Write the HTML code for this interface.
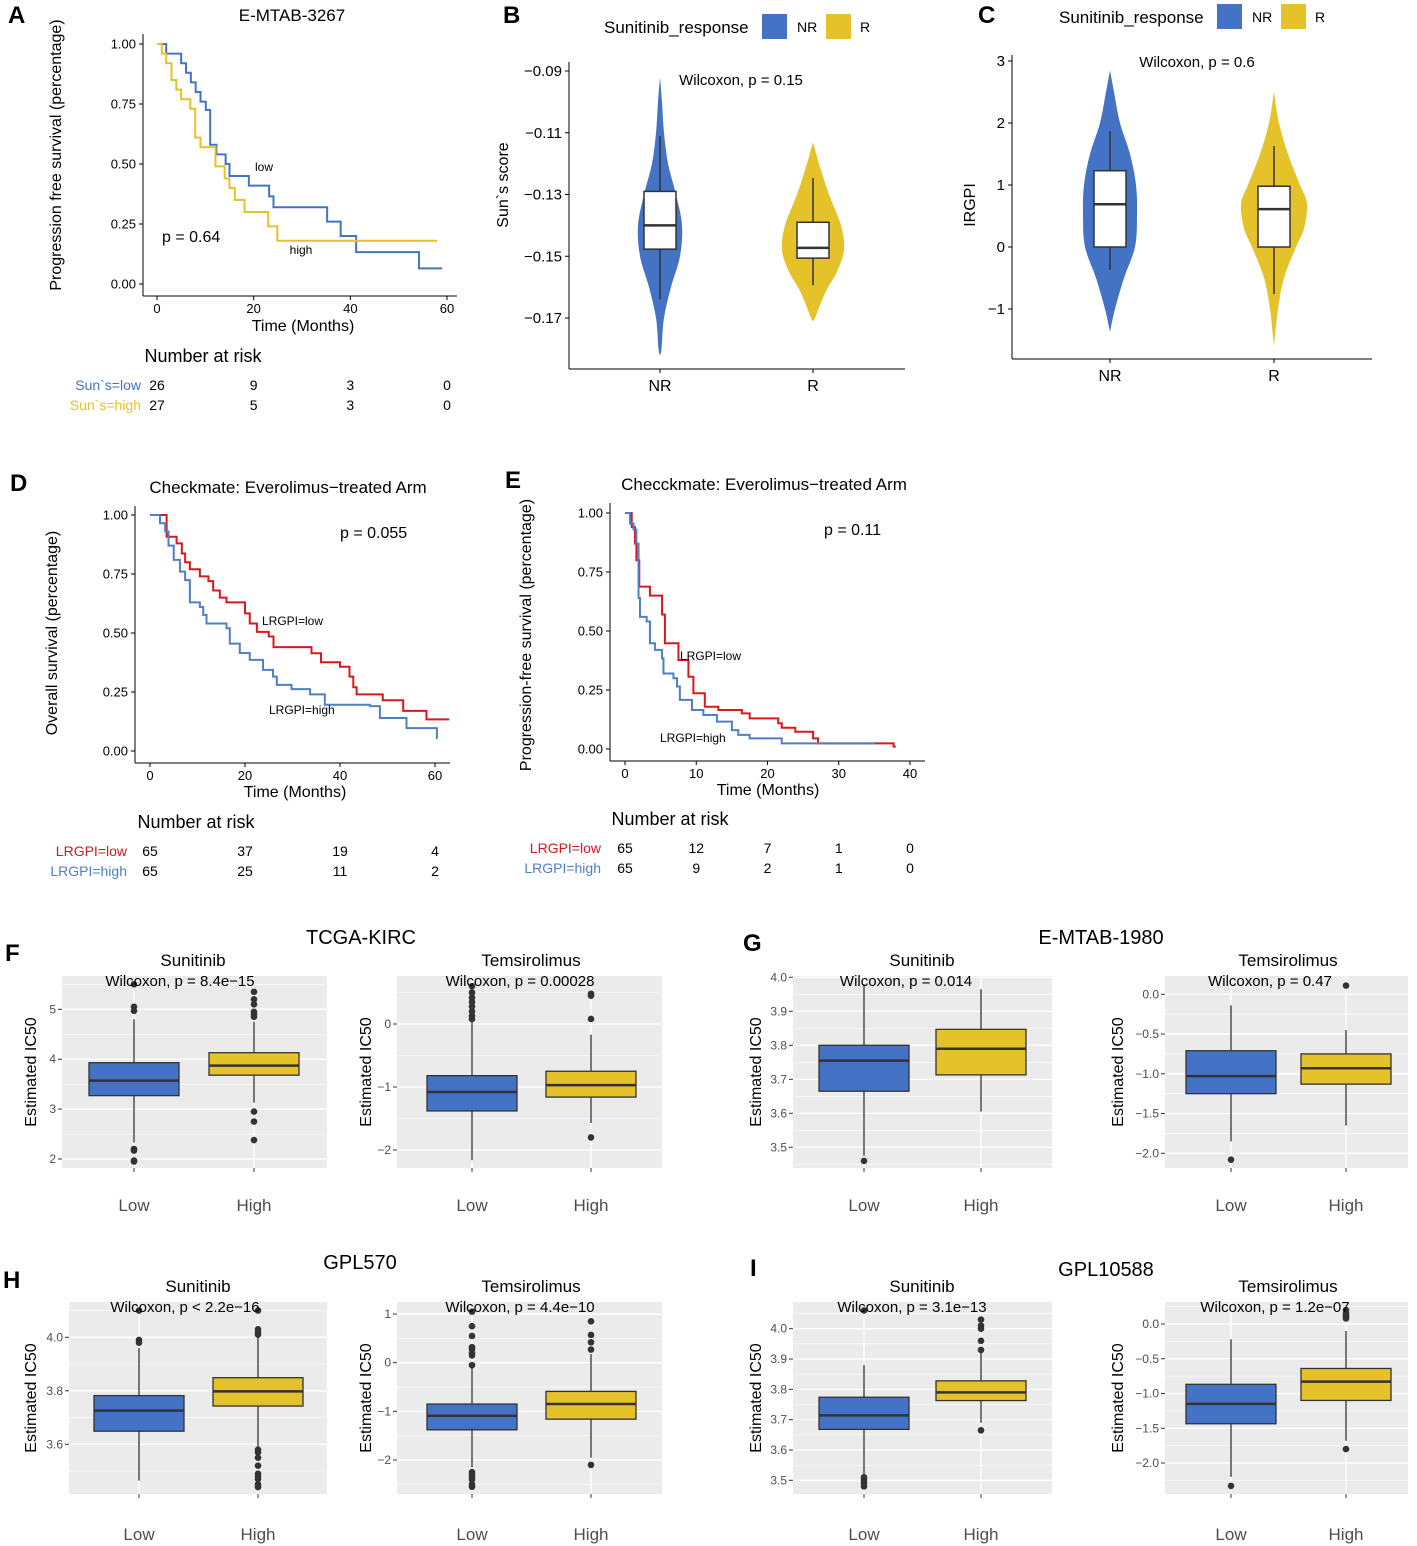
<!DOCTYPE html>
<html><head><meta charset="utf-8">
<style>
html,body{margin:0;padding:0;background:#fff;}
svg{display:block;font-family:"Liberation Sans",Arial,sans-serif;}
</style></head>
<body>
<svg id="fig" xmlns="http://www.w3.org/2000/svg" width="1417" height="1546" viewBox="0 0 1417 1546"></svg>
<script>
// ===== DATA =====
// Panel A KM
const aLowT=[0,1.9,5,6,7,8,9,10.1,11,12.3,14.2,15,19,23.2,24.1,35.2,38,41.2,54.2,59];
const aLowS=[1,0.96,0.92,0.88,0.84,0.80,0.76,0.725,0.58,0.54,0.50,0.45,0.41,0.365,0.32,0.26,0.20,0.133,0.065,0.065];
const aHighT=[0,1,1.9,3,4,5,6.9,7.9,9,12.1,14,15,16.1,18.1,23,24.9,58];
const aHighS=[1,0.96,0.92,0.85,0.81,0.77,0.73,0.61,0.57,0.49,0.44,0.40,0.35,0.30,0.24,0.18,0.18];
const aRiskTimes=[0,20,40,60];
const aRiskLow=[26,9,3,0];
const aRiskHigh=[27,5,3,0];
// Panel D KM
const dLowT=[0,0.35,3.5,5.6,6.7,7.4,8.4,10.5,12.3,13.3,14.7,16.1,20,21,22.5,25,26,34,36,40,42,42.8,43.5,49,53.3,58.2,63];
const dLowS=[1,1,0.908,0.88,0.837,0.80,0.77,0.74,0.72,0.68,0.65,0.63,0.583,0.54,0.505,0.485,0.44,0.414,0.376,0.357,0.315,0.27,0.24,0.215,0.17,0.134,0.134];
const dHighT=[0,2.1,3.2,3.9,5,6.3,7.4,8.4,10.5,11.2,11.9,16.1,16.8,18.9,21,23.8,25.9,26.7,29.8,33.7,36.8,46.3,48.4,54,60.4,60.5];
const dHighS=[1,0.965,0.93,0.87,0.81,0.76,0.724,0.63,0.61,0.577,0.54,0.52,0.455,0.415,0.386,0.344,0.315,0.28,0.262,0.24,0.196,0.19,0.14,0.097,0.054,0.054];
const dRiskTimes=[0,20,40,60];
const dRiskLow=[65,37,19,4];
const dRiskHigh=[65,25,11,2];
// Panel E KM
const eLowT=[0,0.94,1.4,1.6,2.0,3.5,5.2,5.6,7.5,8.9,9.6,11.2,13.1,16.4,17.5,21.5,22,23.9,26.4,27.1,37.7,38];
const eLowS=[1,0.94,0.87,0.80,0.688,0.65,0.57,0.448,0.377,0.306,0.236,0.179,0.165,0.151,0.13,0.109,0.09,0.073,0.045,0.024,0.01,0.01];
const eHighT=[0,0.7,1.2,1.6,1.9,2.1,3.04,3.5,4.2,5.2,5.4,6.8,7.3,7.7,9.4,11,12.9,15,15.9,17.5,22,35.1];
const eHighS=[1,0.955,0.93,0.87,0.64,0.56,0.54,0.448,0.42,0.384,0.32,0.30,0.265,0.208,0.165,0.144,0.116,0.08,0.06,0.045,0.024,0.024];
const eRiskTimes=[0,10,20,30,40];
const eRiskLow=[65,12,7,1,0];
const eRiskHigh=[65,9,2,1,0];
// Panel B violins: [value, half-width density]
const bNRViolin=[[-0.092,0],[-0.10,2],[-0.11,4],[-0.12,8],[-0.13,16],[-0.14,22],[-0.15,20],[-0.16,11],[-0.17,4],[-0.18,1.5],[-0.182,0]];
const bRViolin=[[-0.113,0],[-0.12,6],[-0.13,16],[-0.14,28],[-0.148,31],[-0.155,24],[-0.16,15],[-0.165,8],[-0.17,2],[-0.171,0]];
const bNRBox=[-0.164,-0.1477,-0.140,-0.129,-0.111];
const bRBox=[-0.1594,-0.1506,-0.1473,-0.139,-0.1247];
const bTicks=[-0.09,-0.11,-0.13,-0.15,-0.17];
// Panel C violins
const cNRViolin=[[2.85,0],[2.5,4],[2,10],[1.5,20],[1,26],[0.5,27],[0,25],[-0.5,14],[-1,5],[-1.37,0]];
const cRViolin=[[2.5,0],[2,5],[1.5,14],[1,26],[0.7,33],[0.3,30],[0,22],[-0.5,10],[-1,4],[-1.6,0]];
const cNRBox=[-0.37,0.0,0.69,1.23,1.87];
const cRBox=[-0.76,0.0,0.61,0.98,1.63];
const cTicks=[3,2,1,0,-1];
// Box panels: stats [whiskerLo,Q1,median,Q3,whiskerHi] for Low, High
const f1Stats=[[2.33,3.27,3.57,3.93,4.8],[3.13,3.68,3.87,4.13,4.75]];
const f1Out=[[5.5,5.05,4.97,2.2,2.17,1.97,1.95],[5.35,5.2,5.1,4.95,4.9,4.85,2.95,2.75,2.38]];
const f2Stats=[[-2.16,-1.38,-1.08,-0.82,0.06],[-1.57,-1.16,-0.97,-0.75,-0.17]];
const f2Out=[[0.08,0.13,0.2,0.28,0.35,0.42,0.5,0.6],[0.08,0.45,0.48,-1.8]];
const g1Stats=[[3.475,3.665,3.755,3.80,3.98],[3.605,3.713,3.79,3.847,3.965]];
const g1Out=[[3.46],[]];
const g2Stats=[[-1.85,-1.25,-1.03,-0.71,-0.14],[-1.65,-1.13,-0.93,-0.75,-0.45]];
const g2Out=[[-2.08],[0.11]];
const h1Stats=[[3.464,3.649,3.726,3.782,3.96],[3.59,3.743,3.798,3.849,4.0]];
const h1Out=[[3.99,3.98,4.1],[4.03,4.02,4.01,4.1,3.58,3.57,3.55,3.52,3.49,3.48,3.47,3.45,3.44]];
const h2Stats=[[-2.15,-1.38,-1.09,-0.85,-0.1],[-1.95,-1.16,-0.85,-0.59,0.18]];
const h2Out=[[-0.05,0.15,0.2,0.28,0.32,0.55,0.75,1.05,-2.25,-2.3,-2.35,-2.4,-2.5,-2.55],[0.27,0.42,0.57,0.85,-2.1]];
const i1Stats=[[3.52,3.668,3.714,3.774,3.88],[3.69,3.763,3.79,3.828,3.92]];
const i1Out=[[3.51,3.5,3.49,3.48,4.06],[3.93,3.96,4.0,4.01,4.03,3.665]];
const i2Stats=[[-2.2,-1.435,-1.15,-0.868,-0.22],[-1.68,-1.1,-0.83,-0.64,-0.1]];
const i2Out=[[-2.33],[0.08,0.1,0.12,0.15,0.2,-1.8]];
const boxGroups=['Low','High'];
const f1Ticks=[2,3,4,5], f2Ticks=[-2,-1,0], g1Ticks=[3.5,3.6,3.7,3.8,3.9,4.0], g2Ticks=[-2,-1.5,-1,-0.5,0];
const h1Ticks=[3.6,3.8,4.0], h2Ticks=[-2,-1,0,1], i1Ticks=[3.5,3.6,3.7,3.8,3.9,4.0], i2Ticks=[-2,-1.5,-1,-0.5,0];

// ===== DRAWING =====
const NS='http://www.w3.org/2000/svg';
const svg=document.getElementById('fig');
function mk(tag,attrs,name){
  const e=document.createElementNS(NS,tag);
  for(const k in attrs) e.setAttribute(k,attrs[k]);
  
  
  svg.appendChild(e);
  return e;
}
function txt(x,y,s,name,o){
  o=o||{};
  const a={x:x,y:y,'font-size':o.size||14,fill:o.fill||'#000','text-anchor':o.anchor||'start'};
  if(o.weight)a['font-weight']=o.weight;
  if(o.rot!==undefined){a.transform='rotate('+o.rot+' '+x+' '+y+')';}
  const t=mk('text',a,name);
  t.textContent=s;
  return t;
}
function fmt(v,d){return (v<0?'\u2212':'')+Math.abs(v).toFixed(d);}
const BLUE='#4472C4', YEL='#E5C12A', RED='#D7191C', BLUE2='#4F7FC4';

function km(L,series,colors,names){
  const xs=t=>L.xa+(t-L.t0)*(L.xb-L.xa)/(L.t1-L.t0);
  const ys=s=>L.y0+(1-s)*(L.y1-L.y0);
  mk('line',{x1:L.ax,y1:L.atop,x2:L.ax,y2:L.ab,stroke:'#000','stroke-width':1},L.p+'-y-axis');
  mk('line',{x1:L.ax,y1:L.ab,x2:L.ar,y2:L.ab,stroke:'#000','stroke-width':1},L.p+'-x-axis');
  [1,0.75,0.5,0.25,0].forEach(v=>{
    mk('line',{x1:L.ax-4,y1:ys(v),x2:L.ax,y2:ys(v),stroke:'#000'},L.p+'-y-tick');
    txt(L.ax-7,ys(v)+4.5,v.toFixed(2),L.p+'-y-tick-label',{size:13,anchor:'end'});
  });
  L.xt.forEach(v=>{
    mk('line',{x1:xs(v),y1:L.ab,x2:xs(v),y2:L.ab+4,stroke:'#000'},L.p+'-x-tick');
    txt(xs(v),L.ab+17,String(v),L.p+'-x-tick-label',{size:13,anchor:'middle'});
  });
  series.forEach((sr,k)=>{
    const T=sr[0],S=sr[1];
    let d='M'+xs(T[0])+','+ys(S[0]);
    for(let i=1;i<T.length;i++){d+=' H'+xs(T[i])+' V'+ys(S[i]);}
    mk('path',{d:d,fill:'none',stroke:colors[k],'stroke-width':2},names[k]);
  });
  return xs;
}
function riskTable(xs,times,rows,labels,colors,yRows,labX,p){
  rows.forEach((r,j)=>{
    txt(labX,yRows[j],labels[j],p+'-risk-label',{size:14,anchor:'end',fill:colors[j]});
    r.forEach((v,i)=>txt(xs(times[i]),yRows[j],String(v),p+'-risk-count',{size:14,anchor:'middle'}));
  });
}

// Panel A
txt(8,23,'A','panel-label-a',{size:24,weight:'bold'});
txt(292,21,'E-MTAB-3267','panel-a-title',{size:17,anchor:'middle'});
txt(61,155,'Progression free survival (percentage)','panel-a-y-title',{size:16,anchor:'middle',rot:-90});
const xsA=km({p:'a',xa:157,xb:447,t0:0,t1:60,y0:44,y1:284,ax:143,atop:34,ab:296,ar:457,xt:[0,20,40,60]},
  [[aLowT,aLowS],[aHighT,aHighS]],[BLUE,YEL],['km-a-low','km-a-high']);
txt(303,331,'Time (Months)','panel-a-x-title',{size:16,anchor:'middle'});
txt(264,171,'low','label-low',{size:12,anchor:'middle'});
txt(301,254,'high','label-high',{size:12,anchor:'middle'});
txt(162,242,'p = 0.64','p-value-a',{size:16});
txt(203,362,'Number at risk','risk-title-a',{size:18,anchor:'middle'});
riskTable(xsA,aRiskTimes,[aRiskLow,aRiskHigh],['Sun`s=low','Sun`s=high'],[BLUE,YEL],[390,410],141,'a');

// Panel D
txt(10,491,'D','panel-label-d',{size:24,weight:'bold'});
txt(288,493,'Checkmate: Everolimus\u2212treated Arm','panel-d-title',{size:17,anchor:'middle'});
txt(57,633,'Overall survival (percentage)','panel-d-y-title',{size:16,anchor:'middle',rot:-90});
const xsD=km({p:'d',xa:150,xb:435,t0:0,t1:60,y0:515,y1:751,ax:135,atop:506,ab:763,ar:450,xt:[0,20,40,60]},
  [[dLowT,dLowS],[dHighT,dHighS]],[RED,BLUE2],['km-d-low','km-d-high']);
txt(295,797,'Time (Months)','panel-d-x-title',{size:16,anchor:'middle'});
txt(340,538,'p = 0.055','p-value-d',{size:16});
txt(262,625,'LRGPI=low','label-d-low',{size:12});
txt(269,714,'LRGPI=high','label-d-high',{size:12});
txt(196,828,'Number at risk','risk-title-d',{size:18,anchor:'middle'});
riskTable(xsD,dRiskTimes,[dRiskLow,dRiskHigh],['LRGPI=low','LRGPI=high'],[RED,BLUE2],[856,876],127,'d');

// Panel E
txt(505,488,'E','panel-label-e',{size:24,weight:'bold'});
txt(764,490,'Checckmate: Everolimus\u2212treated Arm','panel-e-title',{size:17,anchor:'middle'});
txt(531,635,'Progression-free survival (percentage)','panel-e-y-title',{size:16,anchor:'middle',rot:-90});
const xsE=km({p:'e',xa:625,xb:910,t0:0,t1:40,y0:513,y1:749,ax:610,atop:503,ab:761,ar:925,xt:[0,10,20,30,40]},
  [[eLowT,eLowS],[eHighT,eHighS]],[RED,BLUE2],['km-e-low','km-e-high']);
txt(768,795,'Time (Months)','panel-e-x-title',{size:16,anchor:'middle'});
txt(824,535,'p = 0.11','p-value-e',{size:16});
txt(680,660,'LRGPI=low','label-e-low',{size:12});
txt(660,742,'LRGPI=high','label-e-high',{size:12});
txt(670,825,'Number at risk','risk-title-e',{size:18,anchor:'middle'});
riskTable(xsE,eRiskTimes,[eRiskLow,eRiskHigh],['LRGPI=low','LRGPI=high'],[RED,BLUE2],[853,873],601,'e');

// smooth curve through points (Catmull-Rom -> cubic Bezier)
function smoothSeg(pts){
  let d='';
  for(let i=0;i<pts.length-1;i++){
    const p0=pts[Math.max(0,i-1)],p1=pts[i],p2=pts[i+1],p3=pts[Math.min(pts.length-1,i+2)];
    const c1x=p1[0]+(p2[0]-p0[0])/6,c1y=p1[1]+(p2[1]-p0[1])/6;
    const c2x=p2[0]-(p3[0]-p1[0])/6,c2y=p2[1]-(p3[1]-p1[1])/6;
    d+=' C'+c1x+','+c1y+' '+c2x+','+c2y+' '+p2[0]+','+p2[1];
  }
  return d;
}
// Violin panels
function violinPanel(L,viols,boxes,ticks,dec){
  const ys=v=>L.ya+(v-L.va)*(L.yb-L.ya)/(L.vb-L.va);
  mk('line',{x1:L.ax,y1:L.atop,x2:L.ax,y2:L.ab,stroke:'#000'},L.p+'-y-axis');
  mk('line',{x1:L.ax,y1:L.ab,x2:L.ar,y2:L.ab,stroke:'#000'},L.p+'-x-axis');
  ticks.forEach(v=>{
    mk('line',{x1:L.ax-4,y1:ys(v),x2:L.ax,y2:ys(v),stroke:'#000'},L.p+'-y-tick');
    txt(L.ax-7,ys(v)+5,fmt(v,dec),L.p+'-y-tick-label',{size:15,anchor:'end'});
  });
  const cols=[BLUE,YEL],g=['NR','R'];
  viols.forEach((vl,k)=>{
    const cx=L.cx[k];
    const left=vl.map(p=>[cx-p[1],ys(p[0])]);
    const right=vl.slice().reverse().map(p=>[cx+p[1],ys(p[0])]);
    let d='M'+left[0][0]+','+left[0][1]+smoothSeg(left)+smoothSeg(right)+'Z';
    mk('path',{d:d,fill:cols[k],stroke:'none'},'violin-'+g[k].toLowerCase());
    const b=boxes[k],hw=16;
    mk('line',{x1:cx,y1:ys(b[0]),x2:cx,y2:ys(b[4]),stroke:'#333','stroke-width':1.5},'whisker-'+g[k].toLowerCase());
    mk('rect',{x:cx-hw,y:ys(b[3]),width:2*hw,height:ys(b[1])-ys(b[3]),fill:'#fff',stroke:'#333','stroke-width':1.5},'box-'+g[k].toLowerCase());
    mk('line',{x1:cx-hw,y1:ys(b[2]),x2:cx+hw,y2:ys(b[2]),stroke:'#333','stroke-width':2.5},'median-'+g[k].toLowerCase());
    mk('line',{x1:cx,y1:L.ab,x2:cx,y2:L.ab+4,stroke:'#000'},L.p+'-x-tick');
    txt(cx,L.ab+22,g[k],L.p+'-x-label',{size:16,anchor:'middle'});
  });
}
function legend(x,y,p){
  txt(x,y+19,'Sunitinib_response',p+'-legend-title',{size:17});
  mk('rect',{x:x+158,y:y,width:25,height:25,fill:BLUE},p+'-legend-key-nr');
  txt(x+193,y+18,'NR',p+'-legend-nr',{size:14});
  mk('rect',{x:x+222,y:y,width:25,height:25,fill:YEL},p+'-legend-key-r');
  txt(x+256,y+18,'R',p+'-legend-r',{size:14});
}
txt(503,23,'B','panel-label-b',{size:24,weight:'bold'});
legend(604,14,'b');
txt(508,185,'Sun`s score','panel-b-y-title',{size:16,anchor:'middle',rot:-90});
violinPanel({p:'b',ya:71,yb:318,va:-0.09,vb:-0.17,ax:569,atop:62,ab:369,ar:905,cx:[660,813]},[bNRViolin,bRViolin],[bNRBox,bRBox],bTicks,2);
txt(741,85,'Wilcoxon, p = 0.15','wilcoxon-b',{size:15,anchor:'middle'});

txt(978,23,'C','panel-label-c',{size:24,weight:'bold'});
legend(1059,4,'c');
txt(975,205,'IRGPI','panel-c-y-title',{size:16,anchor:'middle',rot:-90});
violinPanel({p:'c',ya:61,yb:309,va:3,vb:-1,ax:1012,atop:55,ab:359,ar:1372,cx:[1110,1274]},[cNRViolin,cRViolin],[cNRBox,cRBox],cTicks,0);
txt(1197,67,'Wilcoxon, p = 0.6','wilcoxon-c',{size:15,anchor:'middle'});

// Box panels
function boxPanel(L,stats,outs,ticks,dec){
  const ys=v=>L.pa+(v-L.va)*(L.pb-L.pa)/(L.vb-L.va);
  mk('rect',{x:L.x0,y:L.y0,width:L.x1-L.x0,height:L.y1-L.y0,fill:'#EBEBEB'},L.p+'-panel-bg');
  for(let i=0;i<ticks.length-1;i++){
    const m=(ticks[i]+ticks[i+1])/2;
    mk('line',{x1:L.x0,y1:ys(m),x2:L.x1,y2:ys(m),stroke:'#fff','stroke-width':0.6},L.p+'-minor-grid');
  }
  const step=ticks[1]-ticks[0];
  [ticks[0]-step/2,ticks[ticks.length-1]+step/2].forEach(m=>{
    if(ys(m)>L.y0&&ys(m)<L.y1) mk('line',{x1:L.x0,y1:ys(m),x2:L.x1,y2:ys(m),stroke:'#fff','stroke-width':0.6},L.p+'-minor-grid');
  });
  ticks.forEach(v=>{
    mk('line',{x1:L.x0,y1:ys(v),x2:L.x1,y2:ys(v),stroke:'#fff','stroke-width':1.3},L.p+'-major-grid');
    mk('line',{x1:L.x0-4,y1:ys(v),x2:L.x0,y2:ys(v),stroke:'#333'},L.p+'-y-tick');
    txt(L.x0-6,ys(v)+4,fmt(v,dec),L.p+'-y-tick-label',{size:12,anchor:'end',fill:'#4d4d4d'});
  });
  L.cx.forEach(cx=>mk('line',{x1:cx,y1:L.y0,x2:cx,y2:L.y1,stroke:'#fff','stroke-width':1.3},L.p+'-v-grid'));
  const cols=[BLUE,YEL];
  stats.forEach((b,k)=>{
    const cx=L.cx[k],hw=45;
    mk('line',{x1:cx,y1:ys(b[0]),x2:cx,y2:ys(b[4]),stroke:'#333','stroke-width':1.3},L.p+'-whisker-'+boxGroups[k].toLowerCase());
    mk('rect',{x:cx-hw,y:ys(b[3]),width:2*hw,height:ys(b[1])-ys(b[3]),fill:cols[k],stroke:'#333','stroke-width':1.3},L.p+'-box-'+boxGroups[k].toLowerCase());
    mk('line',{x1:cx-hw,y1:ys(b[2]),x2:cx+hw,y2:ys(b[2]),stroke:'#333','stroke-width':2.5},L.p+'-median-'+boxGroups[k].toLowerCase());
    outs[k].forEach(o=>mk('circle',{cx:cx,cy:ys(o),r:3.3,fill:'#333'},L.p+'-outlier'));
    mk('line',{x1:cx,y1:L.y1,x2:cx,y2:L.y1+4,stroke:'#333'},L.p+'-x-tick');
    txt(cx,L.ly,boxGroups[k],L.p+'-x-label',{size:17,anchor:'middle',fill:'#4d4d4d'});
  });
  txt(L.tx,L.y0-10,L.title,L.p+'-title',{size:17,anchor:'middle'});
  txt(L.wx,L.y0+10,L.wil,L.p+'-wilcoxon',{size:15,anchor:'middle'});
  txt(L.ytx,(L.y0+L.y1)/2,'Estimated IC50',L.p+'-y-title',{size:16,anchor:'middle',rot:-90});
}
// F
txt(5,961,'F','panel-label-f',{size:24,weight:'bold'});
txt(361,944,'TCGA-KIRC','f-dataset-title',{size:20,anchor:'middle'});
boxPanel({p:'f1',x0:62,x1:327,y0:976,y1:1168,pa:1009.3,pb:1159,va:5,vb:2,cx:[134,254],ly:1211,title:'Sunitinib',tx:193,wil:'Wilcoxon, p = 8.4e\u221215',wx:180,ytx:36},f1Stats,f1Out,f1Ticks,0);
boxPanel({p:'f2',x0:397,x1:662,y0:976,y1:1168,pa:1024,pb:1150,va:0,vb:-2,cx:[472,591],ly:1211,title:'Temsirolimus',tx:531,wil:'Wilcoxon, p = 0.00028',wx:520,ytx:371},f2Stats,f2Out,f2Ticks,0);
// G
txt(743,951,'G','panel-label-g',{size:24,weight:'bold'});
txt(1101,944,'E-MTAB-1980','g-dataset-title',{size:20,anchor:'middle'});
boxPanel({p:'g1',x0:793,x1:1052,y0:976,y1:1168,pa:977.3,pb:1147.3,va:4.0,vb:3.5,cx:[864,981],ly:1211,title:'Sunitinib',tx:922,wil:'Wilcoxon, p = 0.014',wx:906,ytx:761},g1Stats,g1Out,g1Ticks,1);
boxPanel({p:'g2',x0:1165,x1:1408,y0:976,y1:1168,pa:994.3,pb:1153.3,va:0,vb:-2,cx:[1231,1346],ly:1211,title:'Temsirolimus',tx:1288,wil:'Wilcoxon, p = 0.47',wx:1270,ytx:1123},g2Stats,g2Out,g2Ticks,1);
// H
txt(3,1288,'H','panel-label-h',{size:24,weight:'bold'});
txt(360,1269,'GPL570','h-dataset-title',{size:20,anchor:'middle'});
boxPanel({p:'h1',x0:69,x1:327,y0:1302,y1:1494,pa:1337.3,pb:1444.3,va:4.0,vb:3.6,cx:[139,258],ly:1540,title:'Sunitinib',tx:198,wil:'Wilcoxon, p < 2.2e\u221216',wx:185,ytx:36},h1Stats,h1Out,h1Ticks,1);
boxPanel({p:'h2',x0:397,x1:662,y0:1302,y1:1494,pa:1362.7,pb:1460,va:0,vb:-2,cx:[472,591],ly:1540,title:'Temsirolimus',tx:531,wil:'Wilcoxon, p = 4.4e\u221210',wx:520,ytx:371},h2Stats,h2Out,h2Ticks,0);
// I
txt(750,1276,'I','panel-label-i',{size:24,weight:'bold'});
txt(1106,1276,'GPL10588','i-dataset-title',{size:20,anchor:'middle'});
boxPanel({p:'i1',x0:793,x1:1052,y0:1302,y1:1494,pa:1328.7,pb:1480.3,va:4.0,vb:3.5,cx:[864,981],ly:1540,title:'Sunitinib',tx:922,wil:'Wilcoxon, p = 3.1e\u221213',wx:912,ytx:761},i1Stats,i1Out,i1Ticks,1);
boxPanel({p:'i2',x0:1165,x1:1408,y0:1302,y1:1494,pa:1324,pb:1463,va:0,vb:-2,cx:[1231,1346],ly:1540,title:'Temsirolimus',tx:1288,wil:'Wilcoxon, p = 1.2e\u221207',wx:1275,ytx:1123},i2Stats,i2Out,i2Ticks,1);
</script>
</body></html>
